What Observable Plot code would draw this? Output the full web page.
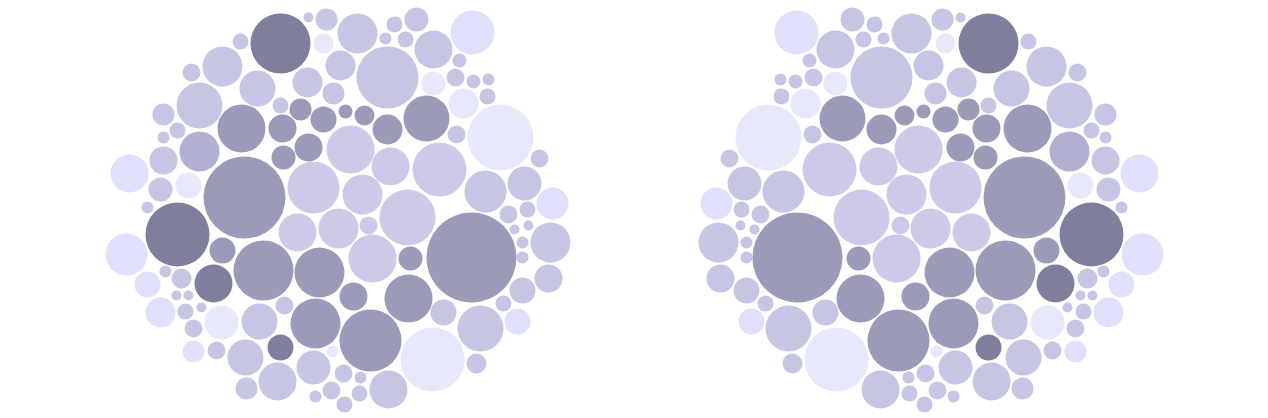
<!DOCTYPE html>
<html>
<head>
<meta charset="utf-8">
<script src="https://cdn.jsdelivr.net/npm/d3@7"></script>
<script src="https://cdn.jsdelivr.net/npm/@observablehq/plot@0.6"></script>
<style>body { margin: 0; background: #fff; }</style>
</head>
<body>
<div id="chart"></div>
<script>
// packed layout of the left cluster (x right, y up, around the panel centre); right cluster is its mirror
const packX = [
  -37, -9, 9, 6, 40, 77, 99, 68, 88, 116,
  155, -77, -95, -126, -60, -10, 23, 70, 116, 138,
  156, 171, 142, 170, 146, 183, 139, 16, -37, -17,
  6, 28, 47, 70, 109, -35, -76, -9, -34, 33,
  73, 122, -118, -154, -140, -154, -118, -154, -188, -129,
  -157, -170, -140, -191, -95, -170, -152, -136, -104, -141,
  -129, -116, -132, -157, -124, -96, -124, -101, -72, -71,
  -40, -58, -33, -37, -2, -4, 15, -2, 14, 27,
  26, 43, 42, 71, 53, 36, 91, 115, 126, 159,
  163, 200, 186, 205, 231, -73, -4, 45, 90, -20,
  21, 51, 55, 93, -54, 2, 154, 168, 207, 222,
  235, 191, 210, 197, 211, 233, 205, 205
]
const packY = [
  166, 192, 190, 166, 176, 185, 190, 171, 170, 160,
  177, 168, 143, 137, 121, 127, 144, 132, 126, 132,
  128, 130, 149, 113, 106, 72, 75, 116, 104, 100,
  90, 98, 94, 80, 91, 81, 81, 62, 52, 60,
  43, 40, 104, 95, 79, 72, 58, 49, 36, 24,
  20, 2, -25, -45, -41, -75, -62, -69, -74, -86,
  -86, -98, -102, -103, -119, -113, -142, -141, -148, -179,
  -172, -112, -96, -138, -114, -158, -142, -187, -181, -195,
  -164, -168, -184, -180, -131, -87, -89, -150, -103, -154,
  -119, -112, -94, -81, -69, 12, 22, 15, -8, -23,
  -19, -16, -49, -49, -61, -63, -48, 18, 26, 51,
  6, -5, 0, -20, -16, -33, -33, -48
]
const sizes = [
  30, 5, 11, 10, 20, 8, 12, 6, 8, 19,
  22, 8, 20, 9, 18, 15, 15, 31, 12, 9,
  7, 6, 7, 8, 15, 33, 9, 11, 8, 11,
  13, 7, 10, 15, 23, 14, 24, 14, 12, 24,
  19, 27, 23, 11, 8, 6, 20, 14, 19, 13,
  12, 6, 32, 21, 13, 13, 6, 10, 19, 5,
  5, 5, 8, 15, 9, 17, 11, 9, 18, 11,
  19, 18, 9, 13, 25, 17, 6, 6, 9, 8,
  9, 6, 8, 19, 31, 14, 24, 32, 13, 10,
  23, 13, 8, 13, 14, 41, 26, 20, 28, 19,
  20, 9, 24, 12, 30, 25, 45, 21, 17, 9,
  16, 9, 8, 5, 5, 20, 6, 6
]
// 1 = darkest … 7 = palest
const tiers = [
  1, 4, 4, 7, 4, 4, 4, 4, 4, 4,
  6, 4, 4, 4, 4, 4, 4, 4, 7, 4,
  4, 4, 4, 4, 7, 7, 4, 4, 4, 2,
  2, 2, 2, 2, 2, 2, 2, 2, 2, 5,
  5, 5, 4, 4, 4, 4, 3, 4, 6, 7,
  4, 4, 1, 6, 2, 6, 4, 4, 1, 4,
  4, 4, 4, 6, 4, 7, 6, 4, 4, 4,
  4, 4, 4, 1, 2, 4, 7, 4, 4, 4,
  4, 4, 4, 4, 2, 2, 2, 7, 4, 4,
  4, 6, 4, 4, 4, 2, 5, 5, 5, 5,
  5, 5, 5, 2, 2, 2, 2, 4, 4, 4,
  6, 4, 4, 4, 4, 4, 4, 4
]
const tierDomain = [1, 2, 3, 4, 5, 6, 7]
const tierColors = ["#7f7e9c", "#9b9bb9", "#b2b0d0", "#c6c6e4", "#cccae8", "#e0e0fc", "#e8e8fc"]
const sides = ["left", "right"]

const rows = sides.flatMap(side => packX.map((x, i) => ({
  side,
  x: side === "left" ? x : -x,
  y: packY[i],
  size: sizes[i],
  tier: tiers[i]
})))

const chart = Plot.plot({
  width: 1268,
  height: 418,
  margin: 0,
  x: {domain: [-317, 317], axis: null},
  y: {domain: [-209, 209], axis: null},
  fx: {domain: sides, padding: 0, axis: null},
  r: {type: "linear", domain: [0, 45], range: [0, 45]},
  color: {type: "ordinal", domain: tierDomain, range: tierColors},
  marks: [
    Plot.dot(rows, {fx: "side", x: "x", y: "y", r: "size", fill: "tier"})
  ]
})
d3.select('#chart').append(() => chart)
</script>
</body>
</html>
